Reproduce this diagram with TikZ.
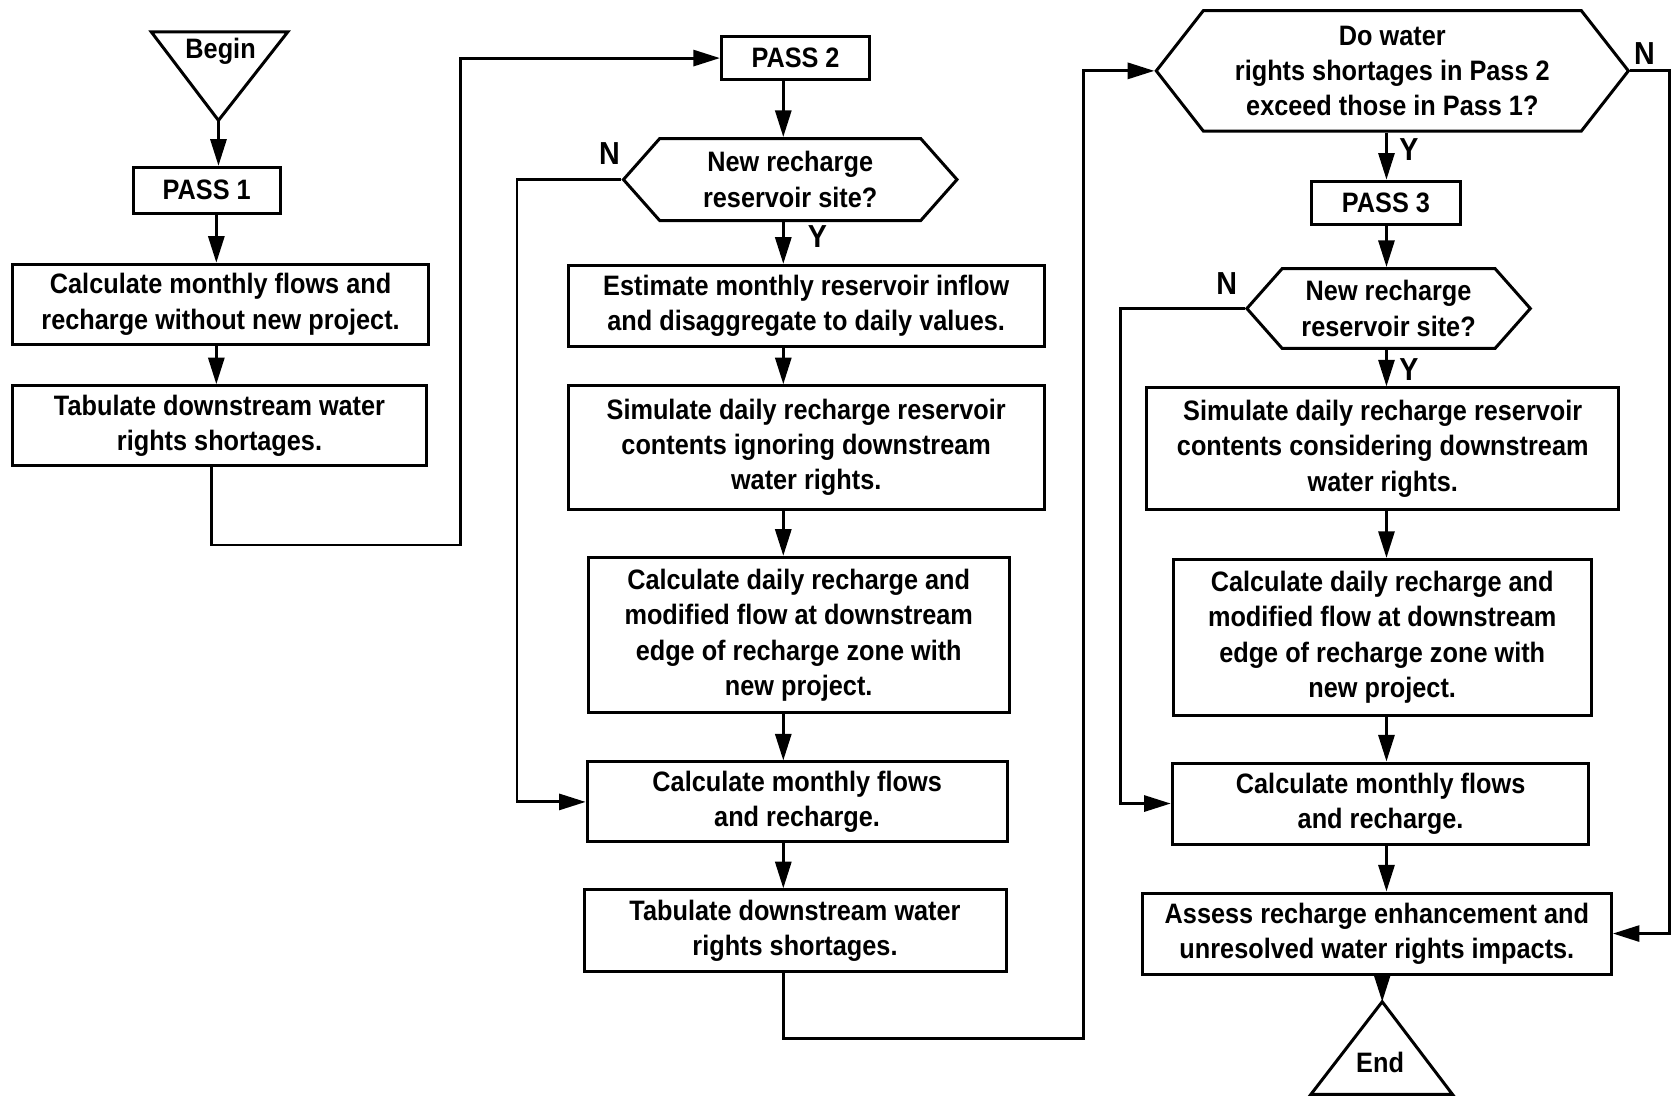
\documentclass[tikz,border=0pt]{standalone}
\usepackage{fontspec}
\setmainfont{Liberation Sans}[FakeStretch=0.9]
\usepackage{tikz}
\usetikzlibrary{positioning, arrows.meta, shapes.symbols}

\begin{document}
\begin{tikzpicture}[
    font=\bfseries\fontsize{7.5}{9.4}\selectfont,
    box/.style={draw, line width=0.8pt, align=center, inner sep=1pt},
    decision/.style={draw, line width=0.8pt, align=center, inner sep=1pt,
      signal, signal to=east and west, signal pointer angle=100},
    arr/.style={-{Triangle[length=2.5mm,width=1.5mm]}, line width=0.8pt},
    line/.style={line width=0.8pt},
    lbl/.style={inner sep=0pt, font=\bfseries\fontsize{8.5}{10}\selectfont}
  ]
    \useasboundingbox (0,0) rectangle (15.68,-10.31);

    % ---------------------- column 1: Pass 1 ----------------------
    \coordinate (colA) at (2.03,0);      % x of the arrows in this column
    \coordinate (beginapex) at (2.05,-1.13);
    \draw[line] (1.42,-0.30) -- (2.70,-0.30) -- (beginapex) -- cycle;
    \node (begin) at (2.07,-0.48) {Begin};
    \node (pass1) [box, minimum width=1.38cm, minimum height=0.43cm] at (1.94,-1.785) {PASS 1};
    \node (calc1) [box, minimum width=3.90cm, minimum height=0.75cm] at (2.07,-2.855) {Calculate monthly flows and\\recharge without new project.};
    \node (tab1) [box, minimum width=3.88cm, minimum height=0.75cm] at (2.06,-3.995) {Tabulate downstream water\\rights shortages.};

    \draw[arr] (beginapex) -- (beginapex |- pass1.north);
    \draw[arr] (pass1.south -| colA) -- (calc1.north -| colA);
    \draw[arr] (calc1.south -| colA) -- (tab1.north -| colA);

    % ---------------------- column 2: Pass 2 ----------------------
    \coordinate (colB) at (7.35,0);
    \node (pass2) [box, minimum width=1.39cm, minimum height=0.41cm] at (7.465,-0.545) {PASS 2};
    \node (site2) [decision, minimum width=3.13cm, minimum height=0.77cm, signal pointer angle=97] at (7.415,-1.685) {New recharge\\reservoir site?};
    \node (est2) [box, minimum width=4.47cm, minimum height=0.76cm] at (7.565,-2.87) {Estimate monthly reservoir inflow\\and disaggregate to daily values.};
    \node (sim2) [box, minimum width=4.47cm, minimum height=1.16cm] at (7.565,-4.20) {Simulate daily recharge reservoir\\contents ignoring downstream\\water rights.};
    \node (daily2) [box, minimum width=3.95cm, minimum height=1.46cm] at (7.495,-5.96) {Calculate daily recharge and\\modified flow at downstream\\edge of recharge zone with\\new project.};
    \node (mon2) [box, minimum width=3.94cm, minimum height=0.75cm] at (7.48,-7.525) {Calculate monthly flows\\and recharge.};
    \node (tab2) [box, minimum width=3.96cm, minimum height=0.77cm] at (7.46,-8.735) {Tabulate downstream water\\rights shortages.};
    \node (n2) [lbl] at (5.72,-1.44) {N};
    \node (y2) [lbl] at (7.67,-2.22) {Y};

    \draw[arr] (tab1.south -| colA) ++(-0.05,0) -- ++(0,-0.73) -- ++(2.34,0) |- (pass2.west); % on to pass 2
    \draw[arr] (pass2.south -| colB) -- (site2.north -| colB);
    \draw[arr] (site2.south -| colB) -- (est2.north -| colB);
    \draw[arr] (est2.south -| colB) -- (sim2.north -| colB);
    \draw[arr] (sim2.south -| colB) -- (daily2.north -| colB);
    \draw[arr] (daily2.south -| colB) -- (mon2.north -| colB);
    \draw[arr] (mon2.south -| colB) -- (tab2.north -| colB);
    \draw[arr] (site2.west) -- ++(-0.98,0) |- (mon2.west); % no site

    % ---------------------- column 3: Pass 3 ----------------------
    \coordinate (colC) at (13.01,0);
    \node (quest) [decision, minimum width=4.43cm, minimum height=1.13cm, signal pointer angle=104] at (13.065,-0.665) {Do water\\rights shortages in Pass 2\\exceed those in Pass 1?};
    \node (pass3) [box, minimum width=1.39cm, minimum height=0.41cm] at (13.005,-1.905) {PASS 3};
    \node (site3) [decision, minimum width=2.66cm, minimum height=0.75cm, signal pointer angle=97] at (13.03,-2.895) {New recharge\\reservoir site?};
    \node (sim3) [box, minimum width=4.43cm, minimum height=1.14cm] at (12.975,-4.21) {Simulate daily recharge reservoir\\contents considering downstream\\water rights.};
    \node (daily3) [box, minimum width=3.92cm, minimum height=1.46cm] at (12.97,-5.98) {Calculate daily recharge and\\modified flow at downstream\\edge of recharge zone with\\new project.};
    \node (mon3) [box, minimum width=3.91cm, minimum height=0.76cm] at (12.955,-7.54) {Calculate monthly flows\\and recharge.};
    \node (assess) [box, minimum width=4.40cm, minimum height=0.76cm] at (12.92,-8.76) {Assess recharge enhancement and\\unresolved water rights impacts.};
    \coordinate (endapex) at (12.97,-9.40);
    \draw[line] (endapex) -- (13.63,-10.27) -- (12.30,-10.27) -- cycle;
    \node (end) at (12.95,-9.97) {End};
    \node (nq) [lbl] at (15.43,-0.50) {N};
    \node (yq) [lbl] at (13.22,-1.40) {Y};
    \node (n3) [lbl] at (11.51,-2.66) {N};
    \node (y3) [lbl] at (13.22,-3.47) {Y};

    \draw[arr] (tab2.south -| colB) -- ++(0,-0.61) -- ++(2.82,0) |- (quest.west); % on to the check
    \draw[arr] (quest.south -| colC) -- (pass3.north -| colC);
    \draw[arr] (pass3.south -| colC) -- (site3.north -| colC);
    \draw[arr] (site3.south -| colC) -- (sim3.north -| colC);
    \draw[arr] (sim3.south -| colC) -- (daily3.north -| colC);
    \draw[arr] (daily3.south -| colC) -- (mon3.north -| colC);
    \draw[arr] (mon3.south -| colC) -- (assess.north -| colC);
    \draw[arr] (assess.south -| endapex) -- (endapex);
    \draw[arr] (site3.west) -- ++(-1.17,0) |- (mon3.west);
    \draw[arr] (quest.east) -- ++(0.37,0) |- (assess.east); % shortages not worse
\end{tikzpicture}
\end{document}
